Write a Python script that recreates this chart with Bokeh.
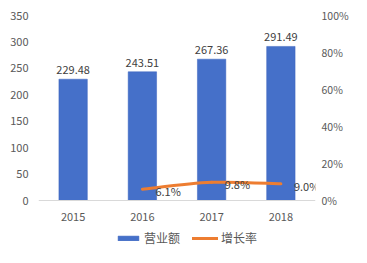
from bokeh.plotting import figure
from bokeh.models import Range1d, LinearAxis, FixedTicker, Legend, LegendItem, ColumnDataSource
from bokeh.embed import file_html
from bokeh.resources import INLINE
from bokeh.core.properties import value

years = ["2015", "2016", "2017", "2018"]
revenue = [229.48, 243.51, 267.36, 291.49]
growth_years = ["2016", "2017", "2018"]
growth = [6.1, 9.8, 9.0]
left_ticks = [0, 50, 100, 150, 200, 250, 300, 350]
right_ticks = [0, 20, 40, 60, 80, 100]

FONT = "Noto Sans CJK SC"
GRAY = "#595959"

# layout (pixels): plot top 15, zero line at 200, figure bottom 247
W, H, TOP, ZERO = 351, 247, 15, 200
ext = (H - ZERO) / (ZERO - TOP)   # fraction of the value span below zero (room for labels/legend)

xs = [i + 0.5 for i in range(len(years))]
gx = [xs[years.index(y)] for y in growth_years]

p = figure(width=W, height=H, output_backend="svg", toolbar_location=None,
           x_range=Range1d(0, 4), y_range=Range1d(-350 * ext, 350),
           x_axis_location=None,
           min_border_left=38, min_border_right=32, min_border_top=TOP, min_border_bottom=0)
p.outline_line_color = None
p.xgrid.visible = False
p.ygrid.visible = False
p.extra_y_ranges = {"pct": Range1d(-100 * ext, 100)}

xa = LinearAxis(fixed_location=0, ticker=FixedTicker(ticks=xs))
xa.major_label_overrides = {x: y for x, y in zip(xs, years)}
p.add_layout(xa, "below")
p.yaxis.ticker = FixedTicker(ticks=left_ticks)
ra = LinearAxis(y_range_name="pct", ticker=FixedTicker(ticks=right_ticks))
ra.major_label_overrides = {t: f"{t}%" for t in right_ticks}
p.add_layout(ra, "right")
for ax in [xa, p.yaxis[0], ra]:
    ax.major_tick_line_color = None
    ax.minor_tick_line_color = None
    ax.major_tick_out = 0
    ax.major_tick_in = 0
    ax.major_label_text_font = FONT
    ax.major_label_text_font_size = "11px"
    ax.major_label_text_color = GRAY
for ax in [p.yaxis[0], ra]:
    ax.axis_line_color = None
p.yaxis[0].major_label_standoff = 10
ra.major_label_standoff = 6
ra.major_label_text_font_size = "10.5px"
xa.axis_line_color = "#d9d9d9"
xa.major_label_standoff = 12

# bars
src = ColumnDataSource(dict(x=xs, top=revenue, lab=[f"{v:.2f}" for v in revenue]))
bars = p.vbar(x="x", top="top", width=0.41, source=src, fill_color="#4570c9",
              line_color="#3a62be", line_width=0.5)
p.text(x="x", y="top", text="lab", source=src, text_align="center", text_baseline="bottom",
       y_offset=-5, text_font=value(FONT), text_font_size="11px", text_color="#404040")

# smooth growth line (Catmull-Rom bezier through the data points)
n = len(gx)
x0, y0, x1, y1, cx0, cy0, cx1, cy1 = [], [], [], [], [], [], [], []
for i in range(n - 1):
    pxm, pym = (gx[i - 1], growth[i - 1]) if i > 0 else (gx[i], growth[i])
    pxp, pyp = (gx[i + 2], growth[i + 2]) if i + 2 < n else (gx[i + 1], growth[i + 1])
    x0.append(gx[i]); y0.append(growth[i])
    x1.append(gx[i + 1]); y1.append(growth[i + 1])
    cx0.append(gx[i] + (gx[i + 1] - pxm) / 6); cy0.append(growth[i] + (growth[i + 1] - pym) / 6)
    cx1.append(gx[i + 1] - (pxp - gx[i]) / 6); cy1.append(growth[i + 1] - (pyp - growth[i]) / 6)
curve = p.bezier(x0=x0, y0=y0, x1=x1, y1=y1, cx0=cx0, cy0=cy0, cx1=cx1, cy1=cy1,
                 y_range_name="pct", line_color="#ED7D31", line_width=3, line_cap="round")
p.text(x=gx, y=growth, text=[f"{v:.1f}%" for v in growth], y_range_name="pct",
       text_align="left", text_baseline="middle", x_offset=13, y_offset=2,
       text_font=value(FONT), text_font_size="11px", text_color="#404040")

legend = Legend(items=[LegendItem(label="营业额", renderers=[bars]),
                       LegendItem(label="增长率", renderers=[curve])],
                orientation="horizontal", location=(77, 1))
legend.border_line_color = None
legend.background_fill_alpha = 0
legend.label_text_font = FONT
legend.label_text_font_size = "12px"
legend.label_text_color = GRAY
legend.label_height = 8
legend.glyph_width = 26
legend.glyph_height = 6
legend.label_standoff = 3
legend.spacing = 12
legend.padding = 0
legend.margin = 0
p.add_layout(legend, "center")

open("out.html", "w").write(file_html(p, INLINE))
